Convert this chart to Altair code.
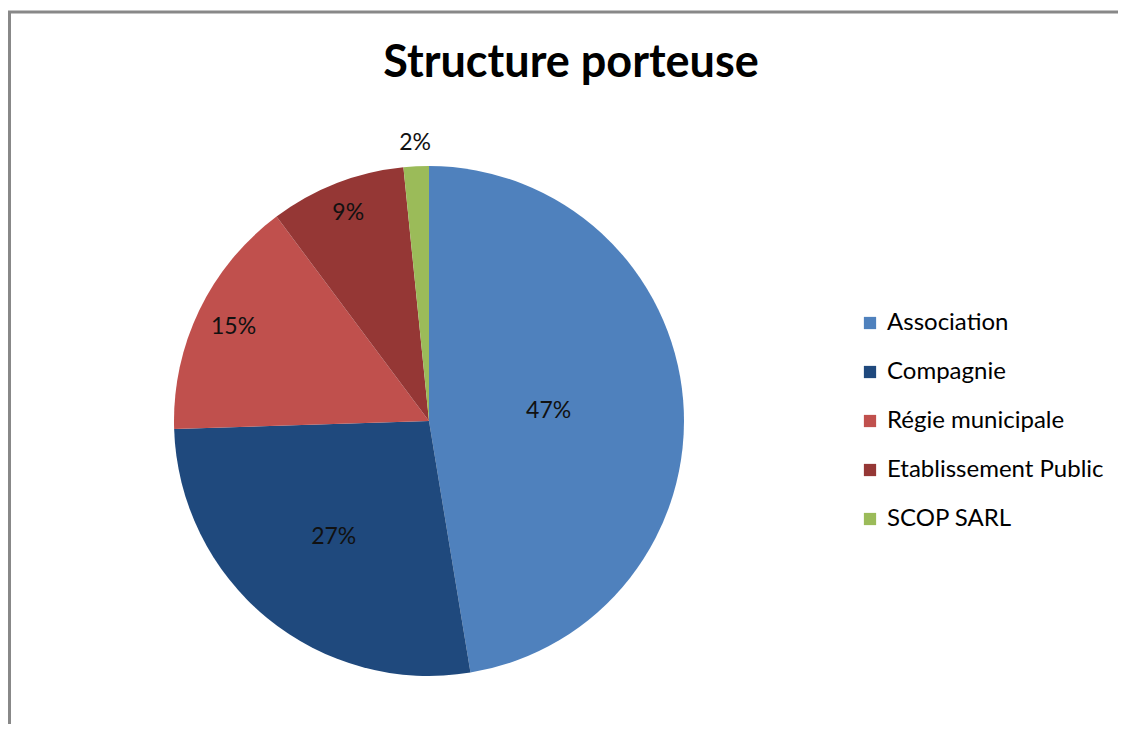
import altair as alt
import pandas as pd

title_text = "Structure porteuse"
categories = ["Association", "Compagnie", "Régie municipale", "Etablissement Public", "SCOP SARL"]
shares = [47.4, 27.1, 15.3, 8.6, 1.6]
colors = ["#4F81BD", "#1F497D", "#C0504D", "#953735", "#9BBB59"]

df = pd.DataFrame({"cat": categories, "share": shares, "idx": list(range(len(categories)))})

FONT = "Lato"
CX, CY, R = 421, 409, 255

label_r = {"Association": 120, "Compagnie": 150, "Régie municipale": 217,
           "Etablissement Public": 223, "SCOP SARL": 278}
expr = " : ".join(f"datum.cat === '{k}' ? {v}" for k, v in label_r.items()) + " : 150"

arc = alt.Chart(df).mark_arc(outerRadius=R, x=CX, y=CY, strokeWidth=0).encode(
    theta=alt.Theta("share:Q", stack=True),
    order=alt.Order("idx:Q"),
    color=alt.Color(
        "cat:N",
        scale=alt.Scale(domain=categories, range=colors),
        sort=categories,
        legend=alt.Legend(
            title=None, orient="none", legendX=850, legendY=299,
            symbolType="square", symbolSize=150, symbolStrokeWidth=0,
            labelFontSize=24, labelFont=FONT, labelColor="#000000",
            labelLimit=0, rowPadding=25, labelOffset=5,
        ),
    ),
)

labels = alt.Chart(df).transform_joinaggregate(
    total="sum(share)"
).transform_window(
    cum="sum(share)", sort=[alt.SortField("idx")], frame=[None, 0]
).transform_calculate(
    pct="datum.share / datum.total",
    mid="(datum.cum - datum.share / 2) / datum.total * 2 * PI",
    lr=expr,
).mark_text(x=CX, y=CY, fontSize=23, font=FONT, color="#111111").encode(
    theta=alt.Theta("mid:Q", scale=None),
    radius=alt.Radius("lr:Q", scale=None),
    text=alt.Text("pct:Q", format=".0%"),
)

title = alt.Chart(pd.DataFrame({"t": [title_text]})).mark_text(
    x=563, y=51, fontSize=45, fontWeight="bold", font=FONT, color="#000000"
).encode(text="t:N")

border = alt.Chart(pd.DataFrame({"b": [0]})).mark_rect(
    fill=None, stroke="#888888", strokeWidth=3
).encode(x=alt.value(1.5), y=alt.value(0), x2=alt.value(1400), y2=alt.value(1000))

chart = alt.layer(border, arc, labels, title).properties(
    width=1110, height=712,
    padding={"left": 0, "top": 4, "right": 0, "bottom": 0},
    autosize="none",
).configure_view(stroke=None)

chart.save("out.html", embed_options={"renderer": "svg", "actions": False})
